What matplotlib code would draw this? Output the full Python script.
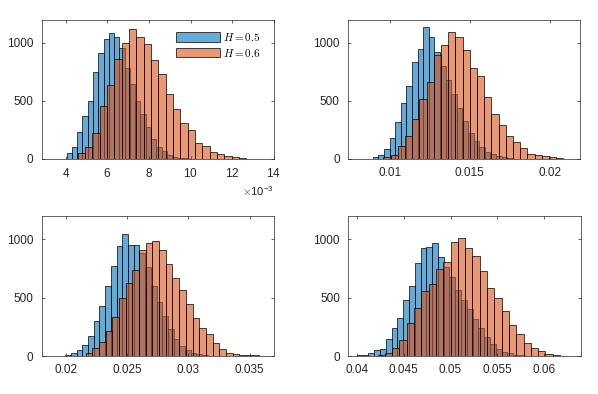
import numpy as np
import matplotlib.pyplot as plt

plt.rcParams['font.family'] = ['Liberation Sans', 'DejaVu Sans']
plt.rcParams['mathtext.fontset'] = 'cm'

# histogram counts, bins given as (first edge, width)
p1_h05 = [45, 98, 225, 368, 500, 750, 907, 1030, 1084, 1050, 950, 785, 640, 500,
          380, 270, 165, 100, 64, 30, 14, 6, 3]
p1_h05_bins = (4.03e-3, 0.254e-3)
p1_h06 = [50, 100, 218, 450, 635, 862, 995, 1118, 1045, 990, 847, 731, 555, 430,
          308, 248, 138, 104, 52, 36, 20, 10, 8]
p1_h06_bins = (4.56e-3, 0.353e-3)

p2_h05 = [9, 30, 86, 173, 313, 477, 623, 836, 948, 1134, 1047, 920, 800, 680,
          560, 440, 320, 220, 150, 100, 60, 35, 20, 10, 5]
p2_h05_bins = (0.00895, 0.00035)
p2_h06 = [15, 29, 104, 191, 345, 516, 661, 893, 980, 1090, 1052, 939, 780, 708,
          534, 380, 293, 191, 139, 90, 41, 32, 23, 9, 5]
p2_h06_bins = (0.00961, 0.00045)

p3_h05 = [9, 25, 50, 92, 170, 297, 432, 600, 769, 940, 1045, 955, 950, 880,
          760, 600, 460, 347, 231, 144, 84, 49, 29, 17, 8, 4]
p3_h05_bins = (0.01992, 0.000467)
p3_h06 = [23, 66, 116, 211, 335, 500, 624, 740, 905, 968, 983, 913, 789, 665,
          566, 442, 327, 240, 191, 110, 61, 29, 20, 12, 6, 6]
p3_h06_bins = (0.0216, 0.000546)

p4_h05 = [6, 12, 26, 55, 60, 143, 242, 328, 476, 600, 797, 928, 935, 970, 849,
          760, 680, 570, 480, 400, 320, 240, 160, 105, 60, 38, 22, 12, 6]
p4_h05_bins = (0.04, 0.000618)
p4_h06 = [8, 30, 65, 140, 280, 410, 560, 620, 748, 805, 980, 1015, 930, 858,
          733, 584, 495, 382, 266, 190, 112, 68, 42, 20, 10]
p4_h06_bins = (0.04222, 0.000778)

xlims = [(2.83e-3, 14e-3), (0.0074, 0.0219), (0.018, 0.037), (0.0391, 0.0639)]
xticks = [np.arange(4, 15, 2) * 1e-3, [0.01, 0.015, 0.02],
          [0.02, 0.025, 0.03, 0.035], [0.04, 0.045, 0.05, 0.055, 0.06]]
labels = ['$H = 0.5$', '$H = 0.6$']

blue = (0, 0.447, 0.741, 0.6)
orange = (0.85, 0.325, 0.098, 0.6)
gray = '#262626'


def draw(ax, counts, bins, color, label):
    first, width = bins
    left = first + width * np.arange(len(counts))
    return ax.bar(left, counts, width=width, align='edge', color=color,
                  edgecolor='k', linewidth=0.5, label=label)


fig = plt.figure(figsize=(5.98, 3.94), dpi=100)
positions = [[0.0697, 0.5977, 0.3878, 0.3528], [0.5819, 0.5977, 0.3880, 0.3528],
             [0.0697, 0.0964, 0.3885, 0.3553], [0.5824, 0.0964, 0.3891, 0.3553]]
data = [(p1_h05, p1_h05_bins, p1_h06, p1_h06_bins),
        (p2_h05, p2_h05_bins, p2_h06, p2_h06_bins),
        (p3_h05, p3_h05_bins, p3_h06, p3_h06_bins),
        (p4_h05, p4_h05_bins, p4_h06, p4_h06_bins)]

for i in range(4):
    ax = fig.add_axes(positions[i])
    c5, b5, c6, b6 = data[i]
    draw(ax, c5, b5, blue, labels[0])
    draw(ax, c6, b6, orange, labels[1])
    ax.set_xlim(xlims[i])
    ax.set_ylim(0, 1200)
    ax.set_xticks(xticks[i])
    ax.set_yticks([0, 500, 1000])
    if i == 0:
        ax.ticklabel_format(axis='x', style='sci', scilimits=(-3, -3), useMathText=True)
        ax.xaxis.get_offset_text().set_fontsize(8)
        ax.xaxis.get_offset_text().set_color(gray)
        ax.legend(loc='upper right', bbox_to_anchor=(0.943, 0.92), frameon=False,
                  fontsize=8, handlelength=3.9, handleheight=0.95,
                  labelspacing=0.35, handletextpad=0.3, borderpad=0,
                  borderaxespad=0)
    else:
        ax.set_xticklabels(['%g' % t for t in xticks[i]])
    ax.tick_params(direction='in', length=2.5, width=0.5, top=True, right=True,
                   colors=gray, labelsize=8.5)
    ax.tick_params(axis='x', pad=6)
    ax.tick_params(axis='y', pad=6)
    for s in ax.spines.values():
        s.set_linewidth(0.5)
        s.set_color(gray)

fig.savefig('out.png', dpi=100)
